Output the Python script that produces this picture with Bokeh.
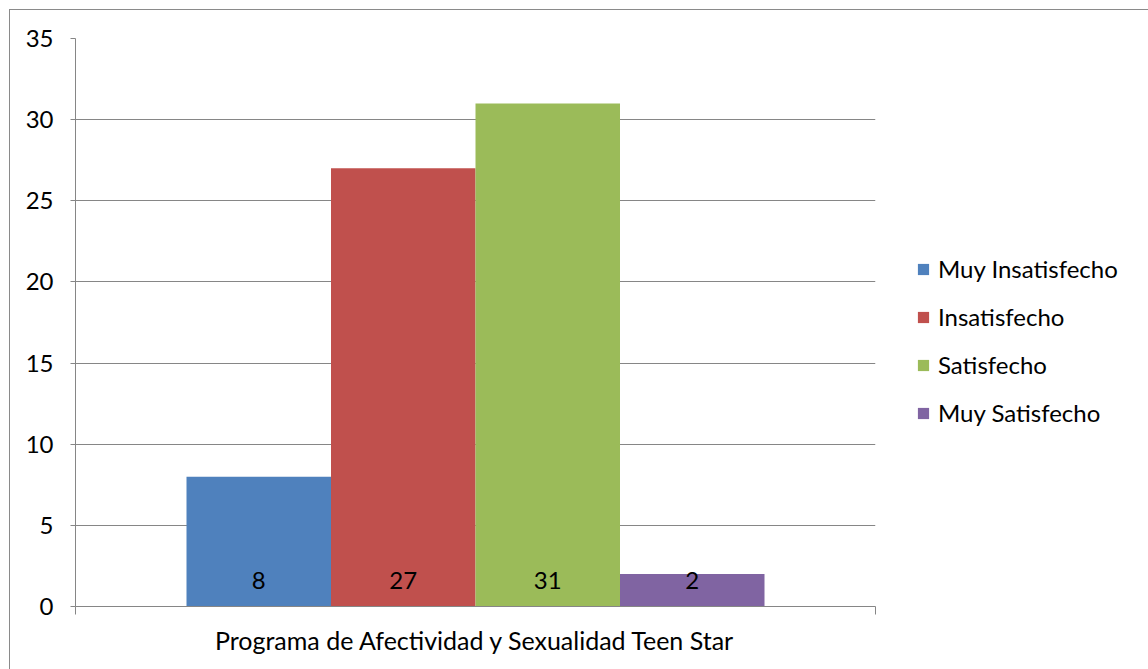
from bokeh.plotting import figure
from bokeh.models import Range1d, FixedTicker, Legend, LegendItem, ColumnDataSource
from bokeh.core.properties import value
from bokeh.embed import file_html
from bokeh.resources import INLINE

categories = ["Programa de Afectividad y Sexualidad Teen Star"]
series = ["Muy Insatisfecho", "Insatisfecho", "Satisfecho", "Muy Satisfecho"]
values = [8, 27, 31, 2]
colors = ["#4F81BD", "#C0504D", "#9BBB59", "#8064A2"]
y_ticks = [0, 5, 10, 15, 20, 25, 30, 35]

FONT = "Lato"
FS = "24px"
GRAY = "#868686"

p = figure(frame_width=800, frame_height=568, output_backend="svg", toolbar_location=None,
           x_range=Range1d(-0.5, len(categories) - 0.5), y_range=Range1d(0, 35),
           min_border_left=65, min_border_right=273, min_border_top=28, min_border_bottom=63)
p.styles = {"margin-top": "9px", "margin-left": "9px",
            "border-top": "1px solid #8a8a8a", "border-left": "1px solid #8a8a8a"}
p.outline_line_color = None
p.background_fill_color = "white"
p.border_fill_color = "white"

group_width = 0.7225
bar_w = group_width / len(series)

items = []
for j, (name, val, col) in enumerate(zip(series, values, colors)):
    off = (j - (len(series) - 1) / 2) * bar_w
    src = ColumnDataSource(dict(x=[i + off for i in range(len(categories))], top=[val], lab=[str(val)]))
    r = p.vbar(x="x", top="top", width=bar_w, bottom=0, source=src, fill_color=col, line_color=None)
    p.text(x="x", y=0, text="lab", source=src, text_align="center", text_baseline="middle",
           y_offset=-26, text_font=value(FONT), text_font_size=FS, text_color="black")
    items.append(LegendItem(label=name, renderers=[r]))

legend = Legend(items=items, location=(41, 179), glyph_width=14, glyph_height=14,
                label_standoff=8, spacing=19, label_height=20, padding=10, margin=0,
                border_line_color=None, background_fill_alpha=0,
                label_text_font=FONT, label_text_font_size=FS, label_text_color="black")
p.add_layout(legend, "right")

# y axis
p.yaxis.ticker = FixedTicker(ticks=y_ticks)
p.yaxis.axis_line_color = GRAY
p.yaxis.major_tick_line_color = GRAY
p.yaxis.major_tick_out = 5
p.yaxis.major_tick_in = 0
p.yaxis.minor_tick_line_color = None
p.yaxis.major_label_standoff = 17
p.yaxis.major_label_text_font = FONT
p.yaxis.major_label_text_font_size = FS
p.yaxis.major_label_text_color = "black"

# x axis
p.xaxis.ticker = FixedTicker(ticks=list(range(len(categories))),
                             minor_ticks=[i - 0.5 for i in range(len(categories) + 1)])
p.xaxis.major_label_overrides = {i: c for i, c in enumerate(categories)}
p.xaxis.axis_line_color = GRAY
p.xaxis.major_tick_line_color = None
p.xaxis.major_tick_out = 0
p.xaxis.major_tick_in = 0
p.xaxis.minor_tick_line_color = GRAY
p.xaxis.minor_tick_out = 8
p.xaxis.minor_tick_in = 0
p.xaxis.major_label_standoff = 10
p.xaxis.major_label_text_font = FONT
p.xaxis.major_label_text_font_size = "25px"
p.xaxis.major_label_text_color = "black"

p.xgrid.grid_line_color = None
p.ygrid.grid_line_color = GRAY
p.ygrid.ticker = FixedTicker(ticks=y_ticks)

open("out.html", "w").write(file_html(p, INLINE))
